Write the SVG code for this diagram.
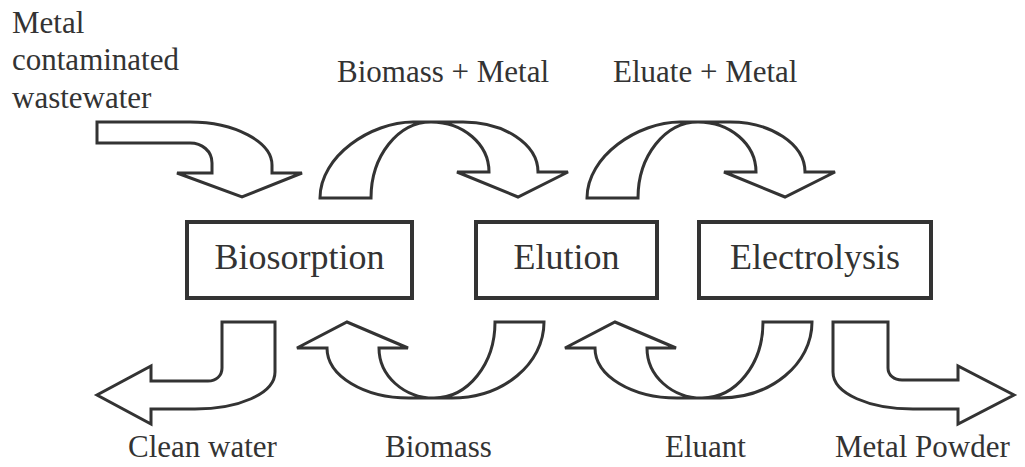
<svg xmlns="http://www.w3.org/2000/svg" width="1025" height="467" viewBox="0 0 1025 467">
<style>
.box{fill:#fff;stroke:#333;stroke-width:4}
.arr{fill:#fff;stroke:#333;stroke-width:3;stroke-linejoin:miter}
.bt{font-family:"Liberation Serif",serif;font-size:36px;fill:#333;text-anchor:middle}
.lb{font-family:"Liberation Serif",serif;font-size:31px;fill:#333}
</style>
<rect width="1025" height="467" fill="#fff"/>
<g id="connectors">
<path id="a-in" class="arr" d="M97,122 L190,122 C235,122 272,142 272,165 L272,173 L302,173 L242,197 L177,173 L212,173 L212,163 C212,151 202,143 190,143 L97,143 Z"/>
<path id="a-bio-elu" class="arr" d="M320,198 C320,156 371,122 413,122 L463,122 C504,122 538,144 538,172 L568,172 L518,197 L457,172 L489,172 C489,144 463,122 431,122 C398,122 371,156 371,198 Z"/>
<path id="a-elu-ele" class="arr" d="M587,198 C587,156 638,122 680,122 L730,122 C771,122 805,144 805,172 L835,172 L785,197 L724,172 L756,172 C756,144 730,122 698,122 C665,122 638,156 638,198 Z"/>
<path id="a-clean" class="arr" d="M222,322 L275,322 L275,372 C275,394 238,409 195,409 L151,409 L151,424 L97,395 L151,366 L151,381 L208,381 C216,381 222,376 222,368 Z"/>
<path id="a-biomass" class="arr" d="M495,322 L544,322 C544,364 503,398 452,398 L409,398 C364,398 327,376 327,348 L297,348 L347,322 L408,348 L379,348 C379,376 404,398 434,398 C468,398 495,364 495,322 Z"/>
<path id="a-eluant" class="arr" d="M763,322 L812,322 C812,364 771,398 720,398 L677,398 C632,398 595,376 595,348 L565,348 L615,322 L676,348 L647,348 C647,376 672,398 702,398 C736,398 763,364 763,322 Z"/>
<path id="a-powder" class="arr" d="M888,322 L833,322 L833,372 C833,394 870,409 913,409 L958,409 L958,424 L1014,395 L958,366 L958,380 L902,380 C894,380 888,375 888,368 Z"/>
</g>
<g id="biosorption">
<rect class="box" x="187" y="222" width="225" height="76"/>
<text class="bt" x="299.5" y="269">Biosorption</text>
</g>
<g id="elution">
<rect class="box" x="476" y="222" width="181" height="76"/>
<text class="bt" x="566.5" y="269">Elution</text>
</g>
<g id="electrolysis">
<rect class="box" x="699" y="222" width="232" height="76"/>
<text class="bt" x="815" y="269">Electrolysis</text>
</g>
<g id="labels">
<text class="lb" x="12" y="33">Metal</text>
<text class="lb" x="12" y="70">contaminated</text>
<text class="lb" x="12" y="108">wastewater</text>
<text class="lb" x="337" y="82">Biomass + Metal</text>
<text class="lb" x="613" y="82">Eluate + Metal</text>
<text class="lb" x="128" y="457">Clean water</text>
<text class="lb" x="385" y="457">Biomass</text>
<text class="lb" x="665" y="457">Eluant</text>
<text class="lb" x="835" y="457">Metal Powder</text>
</g>
</svg>
